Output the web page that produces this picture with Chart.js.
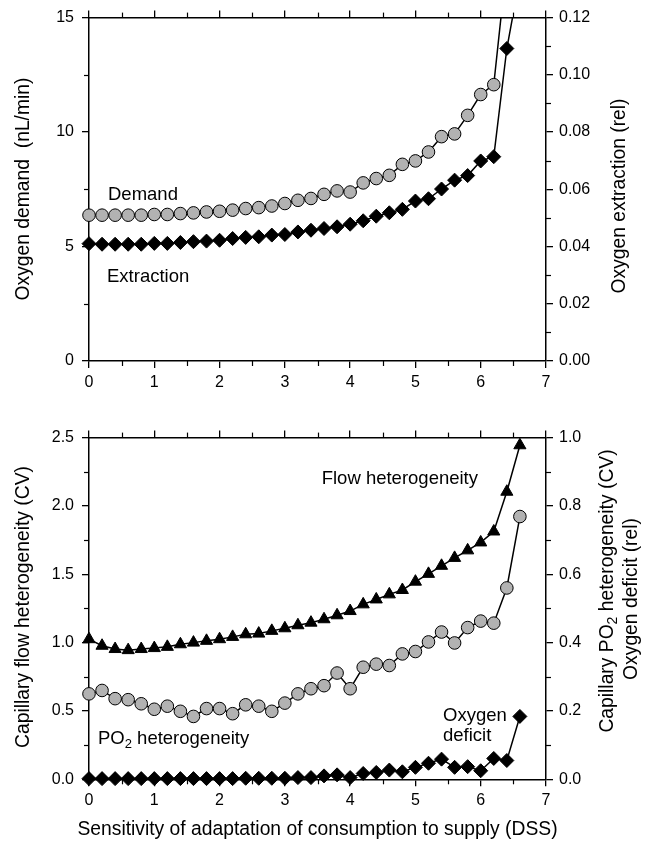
<!DOCTYPE html>
<html><head><meta charset="utf-8">
<script src="https://cdn.jsdelivr.net/npm/chart.js@4.4.0/dist/chart.umd.min.js"></script>
<style>
html,body{margin:0;padding:0;background:#fff;}
#wrap{position:relative;width:654px;height:845px;background:#fff;}
#c1{position:absolute;left:0;top:0;}
#c2{position:absolute;left:0;top:420px;}
</style></head><body>
<div id="wrap">
<canvas id="c1" width="654" height="420"></canvas>
<canvas id="c2" width="654" height="425"></canvas>
</div>
<script>
// ---- data ----
const dss = [0,0.2,0.4,0.6,0.8,1.0,1.2,1.4,1.6,1.8,2.0,2.2,2.4,2.6,2.8,3.0,3.2,3.4,3.6,3.8,4.0,4.2,4.4,4.6,4.8,5.0,5.2,5.4,5.6,5.8,6.0,6.2,6.4,6.6];
const demand = [6.37,6.37,6.37,6.37,6.37,6.40,6.40,6.44,6.47,6.51,6.54,6.59,6.66,6.70,6.77,6.88,7.02,7.10,7.28,7.43,7.38,7.78,7.97,8.11,8.59,8.74,9.13,9.80,9.92,10.73,11.64,12.07,17.4,22.0];
const extraction = [0.0410,0.0408,0.0408,0.0408,0.0408,0.0411,0.0411,0.0414,0.0417,0.0419,0.0422,0.0428,0.0432,0.0434,0.0440,0.0442,0.0451,0.0457,0.0463,0.0469,0.0478,0.0490,0.0506,0.0518,0.0530,0.0559,0.0567,0.0601,0.0632,0.0648,0.0699,0.0714,0.1092,0.134];
const flowHet = [1.025,0.977,0.953,0.945,0.953,0.960,0.969,0.988,1.000,1.013,1.025,1.042,1.061,1.066,1.086,1.105,1.127,1.146,1.171,1.200,1.231,1.280,1.316,1.353,1.385,1.446,1.503,1.562,1.620,1.675,1.733,1.813,2.104,2.444];
const po2Het = [0.250,0.260,0.236,0.233,0.221,0.205,0.214,0.199,0.184,0.207,0.207,0.192,0.218,0.214,0.199,0.223,0.250,0.265,0.274,0.311,0.265,0.328,0.337,0.333,0.367,0.374,0.402,0.431,0.399,0.444,0.463,0.457,0.560,0.769];
const o2Deficit = [0.002,0.002,0.002,0.002,0.002,0.002,0.002,0.002,0.002,0.002,0.002,0.002,0.003,0.003,0.003,0.003,0.005,0.005,0.010,0.013,0.005,0.017,0.020,0.027,0.022,0.035,0.047,0.059,0.035,0.037,0.025,0.061,0.055,0.184];

const xTicksMinor = [0.5,1.5,2.5,3.5,4.5,5.5,6.5];
const topLeftMinor = [2.5,7.5,12.5];
const topRightMinor = [0.01,0.03,0.05,0.07,0.09,0.11];
const botLeftMinor = [0.25,0.75,1.25,1.75,2.25];
const botRightMinor = [0.1,0.3,0.5,0.7,0.9];

// ---- style ----
const FONT = '"Liberation Sans", Arial, Helvetica, sans-serif';
Chart.defaults.font.family = FONT;
Chart.defaults.color = '#000';
const GRAY = '#b2b2b2';
const TICK_FS = 16;
const TXT_FS = 18.5;
const TITLE_FS = 19.3;

function pts(ys){ return dss.map((x,i)=>({x:x, y:ys[i]})); }

const gridOpt = {display:true, drawOnChartArea:false, drawTicks:true, tickLength:7, color:'#000', lineWidth:1.3};
const borderOpt = {display:true, color:'#000', width:1.5};

function xAxes(bottomH, topH){
  return {
    x: {type:'linear', position:'bottom', min:0, max:7,
        ticks:{stepSize:1, font:{size:TICK_FS}, padding:5, maxRotation:0},
        grid:gridOpt, border:borderOpt, afterFit:s=>{s.height=bottomH;}},
    xTop: {type:'linear', axis:'x', position:'top', min:0, max:7,
        ticks:{stepSize:1, display:false},
        grid:gridOpt, border:borderOpt, afterFit:s=>{s.height=topH;}}
  };
}

function minorPlugin(spec){
  return {id:'minorTicks', afterDraw(chart){
    const ctx = chart.ctx, a = chart.chartArea, L = 5;
    ctx.save(); ctx.strokeStyle='#000'; ctx.lineWidth=1.2;
    spec.forEach(s=>{
      const sc = chart.scales[s.axis];
      s.values.forEach(v=>{
        const p = Math.round(sc.getPixelForValue(v))+0.5;
        ctx.beginPath();
        if (s.side==='bottom'){ ctx.moveTo(p,a.bottom); ctx.lineTo(p,a.bottom+L); }
        else if (s.side==='top'){ ctx.moveTo(p,a.top); ctx.lineTo(p,a.top-L); }
        else if (s.side==='left'){ ctx.moveTo(a.left,p); ctx.lineTo(a.left-L,p); }
        else { ctx.moveTo(a.right,p); ctx.lineTo(a.right+L,p); }
        ctx.stroke();
      });
    });
    ctx.restore();
  }};
}

function vText(ctx, x, y, parts, fs){
  ctx.save();
  ctx.translate(x,y); ctx.rotate(-Math.PI/2);
  ctx.textBaseline='middle'; ctx.textAlign='left'; ctx.fillStyle='#000';
  const sfs = Math.round(fs*0.7);
  let total=0;
  parts.forEach(p=>{ ctx.font = (p.sub? sfs:fs)+'px '+FONT; p.w = ctx.measureText(p.t).width; total+=p.w; });
  let cx = -total/2;
  parts.forEach(p=>{ ctx.font = (p.sub? sfs:fs)+'px '+FONT; ctx.fillText(p.t, cx, p.sub? 5:0); cx+=p.w; });
  ctx.restore();
}
function hText(ctx, x, y, parts){
  ctx.save(); ctx.textBaseline='alphabetic'; ctx.textAlign='left'; ctx.fillStyle='#000';
  let cx=x;
  parts.forEach(p=>{ ctx.font=(p.sub?13:TXT_FS)+'px '+FONT; ctx.fillText(p.t, cx, p.sub? y+4 : y); cx+=ctx.measureText(p.t).width; });
  ctx.restore();
}

const circleDS = (label, data, yAxisID) => ({label, data, yAxisID, borderColor:'#000', borderWidth:1.5,
  pointStyle:'circle', pointRadius:6.3, pointBackgroundColor:GRAY, pointBorderColor:'#000', pointBorderWidth:1, tension:0});
const diamondDS = (label, data, yAxisID) => ({label, data, yAxisID, borderColor:'#000', borderWidth:1.5,
  pointStyle:'rectRot', pointRadius:7, pointBackgroundColor:'#000', pointBorderColor:'#000', pointBorderWidth:1, tension:0});
const triDS = (label, data, yAxisID) => ({label, data, yAxisID, borderColor:'#000', borderWidth:1.5,
  pointStyle:'triangle', pointRadius:7, pointBackgroundColor:'#000', pointBorderColor:'#000', pointBorderWidth:1, tension:0});

// ---- top chart ----
const topClip = {left:12, right:12, bottom:12, top:0};
const d1 = circleDS('Demand', pts(demand), 'y'); d1.clip = topClip;
const d2 = diamondDS('Extraction', pts(extraction), 'y2'); d2.clip = topClip;

new Chart(document.getElementById('c1'), {
  type:'line',
  data:{datasets:[d1, d2]},
  options:{
    responsive:false, animation:false, events:[],
    layout:{padding:0},
    plugins:{legend:{display:false}, tooltip:{enabled:false}},
    scales:Object.assign(xAxes(59,17), {
      y:{position:'left', min:0, max:15, ticks:{stepSize:5, font:{size:TICK_FS}, padding:8},
         grid:gridOpt, border:borderOpt, afterFit:s=>{s.width=89;}},
      y2:{position:'right', min:0, max:0.12, ticks:{stepSize:0.02, font:{size:TICK_FS}, padding:6, callback:v=>Number(v).toFixed(2)},
         grid:gridOpt, border:borderOpt, afterFit:s=>{s.width=108;}}
    })
  },
  plugins:[minorPlugin([
    {axis:'x', side:'bottom', values:xTicksMinor},
    {axis:'xTop', side:'top', values:xTicksMinor},
    {axis:'y', side:'left', values:topLeftMinor},
    {axis:'y2', side:'right', values:topRightMinor}
  ]), {id:'texts1', afterDraw(chart){
    const ctx=chart.ctx;
    vText(ctx, 24, 189, [{t:'Oxygen demand  (nL/min)'}], TITLE_FS);
    vText(ctx, 620, 196, [{t:'Oxygen extraction (rel)'}], TITLE_FS);
    hText(ctx, 108, 199.5, [{t:'Demand'}]);
    hText(ctx, 107, 281.5, [{t:'Extraction'}]);
  }}]
});

// ---- bottom chart ----
const b1 = triDS('Flow heterogeneity', pts(flowHet), 'y'); b1.clip = false;
const b2 = circleDS('PO2 heterogeneity', pts(po2Het), 'y2'); b2.clip = false;
const b3 = diamondDS('Oxygen deficit', pts(o2Deficit), 'y2'); b3.clip = false;

new Chart(document.getElementById('c2'), {
  type:'line',
  data:{datasets:[b1, b2, b3]},
  options:{
    responsive:false, animation:false, events:[],
    layout:{padding:0},
    plugins:{legend:{display:false}, tooltip:{enabled:false}},
    scales:Object.assign(xAxes(65.7,15.5), {
      y:{position:'left', min:0, max:2.5, ticks:{stepSize:0.5, font:{size:TICK_FS}, padding:8, callback:v=>Number(v).toFixed(1)},
         grid:gridOpt, border:borderOpt, afterFit:s=>{s.width=89;}},
      y2:{position:'right', min:0, max:1.0, ticks:{stepSize:0.2, font:{size:TICK_FS}, padding:6, callback:v=>Number(v).toFixed(1)},
         grid:gridOpt, border:borderOpt, afterFit:s=>{s.width=108;}}
    })
  },
  plugins:[minorPlugin([
    {axis:'x', side:'bottom', values:xTicksMinor},
    {axis:'xTop', side:'top', values:xTicksMinor},
    {axis:'y', side:'left', values:botLeftMinor},
    {axis:'y2', side:'right', values:botRightMinor}
  ]), {id:'texts2', afterDraw(chart){
    const ctx=chart.ctx;
    vText(ctx, 24, 187, [{t:'Capillary flow heterogeneity (CV)'}], TITLE_FS);
    vText(ctx, 608, 171, [{t:'Capillary PO'},{t:'2',sub:true},{t:' heterogeneity (CV)'}], TITLE_FS);
    vText(ctx, 632, 179, [{t:'Oxygen deficit (rel)'}], TITLE_FS);
    hText(ctx, 321.7, 64, [{t:'Flow heterogeneity'}]);
    hText(ctx, 98, 324, [{t:'PO'},{t:'2',sub:true},{t:' heterogeneity'}]);
    hText(ctx, 443, 301, [{t:'Oxygen'}]);
    hText(ctx, 443, 321, [{t:'deficit'}]);
    ctx.save(); ctx.font=TITLE_FS+'px '+FONT; ctx.textAlign='center'; ctx.textBaseline='alphabetic'; ctx.fillStyle='#000';
    ctx.fillText('Sensitivity of adaptation of consumption to supply (DSS)', 317.5, 415);
    ctx.restore();
  }}]
});
</script>
</body></html>
